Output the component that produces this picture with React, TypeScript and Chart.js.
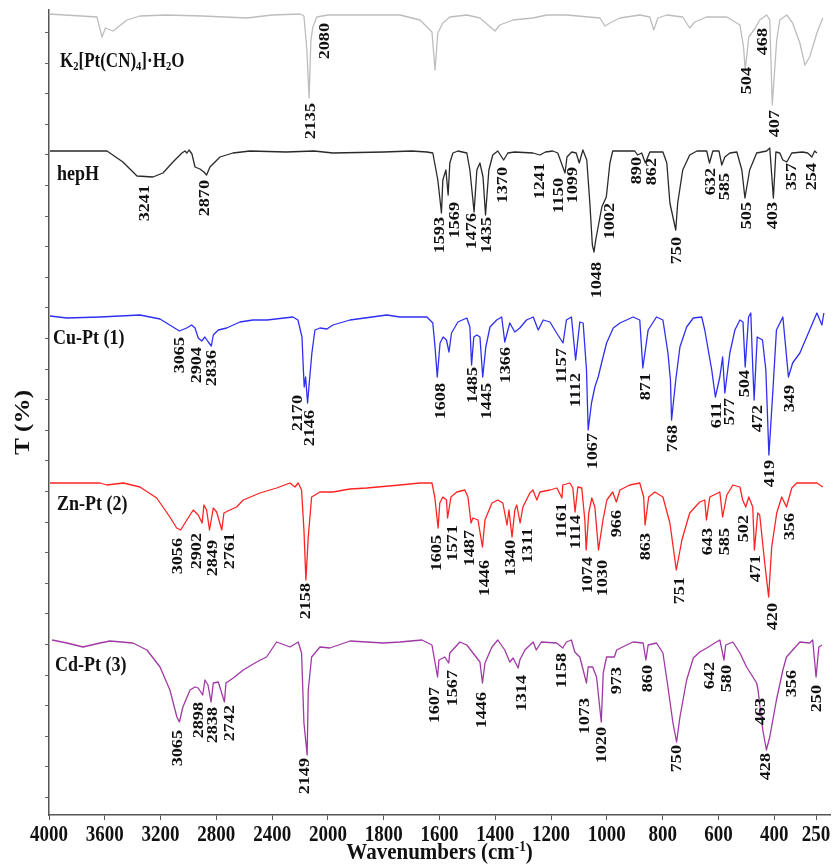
import React, { useEffect, useRef } from 'react';
import { Chart, registerables, LinearScale } from 'chart.js';

Chart.register(...registerables);

// ---------------- axis definition ----------------
const X_TICKS = [4000, 3600, 3200, 2800, 2400, 2000, 1800, 1600, 1400, 1200, 1000, 800, 600, 400, 250];
const X_MIN = 200;
const X_MAX = 4000;
const X_BREAK = 2000;
const Y_MIN = 0;
const Y_MAX = 805;

// ---------------- spectra (wavenumber, stacked transmittance) ----------------
const K2PT = [[4000,801],[3656,798],[3620,778],[3595,787],[3541,784],[3441,795],[3348,799],[3154,800],[2900,799],[2581,797],[2400,800],[2200,801],[2172,799],[2151,765],[2135,717],[2122,775],[2108,788],[2080,798],[2000,800],[1742,800],[1670,795],[1627,783],[1616,745],[1606,782],[1588,792],[1563,798],[1502,800],[1455,797],[1401,784],[1384,790],[1337,795],[1265,797],[1215,800],[1143,800],[1025,797],[1007,789],[989,792],[953,797],[882,800],[846,798],[832,785],[817,797],[785,800],[728,798],[703,787],[685,793],[643,798],[570,798],[523,790],[510,768],[504,745],[491,778],[468,787],[452,795],[427,800],[416,795],[407,710],[391,775],[380,795],[355,800],[334,792],[308,772],[290,750],[273,758],[247,782],[226,797]];

const HEPH = [[3993,664],[3584,664],[3470,653],[3369,639],[3255,638],[3183,642],[3111,653],[3047,662],[3025,664],[3011,662],[2996,665],[2975,661],[2953,648],[2918,646],[2889,643],[2870,640],[2846,648],[2774,658],[2681,662],[2559,664],[2300,663],[2100,664],[1982,662],[1800,663],[1700,664],[1645,663],[1624,662],[1606,635],[1593,602],[1588,635],[1577,645],[1569,620],[1563,652],[1552,662],[1534,664],[1502,662],[1491,645],[1476,603],[1466,645],[1455,652],[1444,638],[1435,600],[1423,645],[1409,660],[1391,664],[1370,655],[1355,662],[1330,663],[1265,662],[1240,660],[1220,663],[1194,664],[1176,662],[1150,642],[1143,658],[1126,663],[1110,662],[1099,652],[1086,665],[1072,655],[1061,612],[1052,570],[1046,563],[1040,575],[1030,590],[1018,608],[1002,618],[989,652],[979,664],[900,664],[890,660],[875,662],[862,652],[846,663],[799,663],[785,652],[774,612],[753,585],[746,612],[728,645],[703,660],[677,664],[642,664],[632,652],[620,664],[598,664],[588,650],[577,658],[559,662],[534,663],[516,645],[505,617],[488,645],[463,662],[427,664],[416,667],[403,617],[394,663],[380,662],[369,655],[355,653],[337,662],[298,663],[280,662],[265,658],[255,664],[247,662]];

const CUPT = [[3993,499],[3871,497],[3634,498],[3348,500],[3204,496],[3111,488],[3065,484],[3013,487],[2977,490],[2953,487],[2930,477],[2905,474],[2882,478],[2858,473],[2836,469],[2822,480],[2786,485],[2726,487],[2631,493],[2538,495],[2437,495],[2251,498],[2215,495],[2186,478],[2176,445],[2170,428],[2160,438],[2146,412],[2132,435],[2115,462],[2093,485],[2057,487],[2007,486],[1982,490],[1921,495],[1789,500],[1742,498],[1645,498],[1624,492],[1616,468],[1608,438],[1598,472],[1587,478],[1575,475],[1566,463],[1557,482],[1534,493],[1502,497],[1491,488],[1485,450],[1477,478],[1466,480],[1455,478],[1445,438],[1434,468],[1419,488],[1395,495],[1377,498],[1366,473],[1348,492],[1330,483],[1312,487],[1288,495],[1264,498],[1246,485],[1228,495],[1204,493],[1180,482],[1157,472],[1145,495],[1127,498],[1112,455],[1097,493],[1085,492],[1073,445],[1067,385],[1055,412],[1043,428],[1031,438],[1019,452],[1001,472],[977,487],[953,492],[906,498],[882,495],[871,447],[852,485],[822,498],[799,495],[781,462],[772,435],[768,395],[753,435],[738,468],[714,488],[690,497],[660,498],[649,485],[624,445],[611,418],[595,438],[585,458],[577,422],[559,462],[541,485],[523,495],[512,493],[504,448],[492,498],[484,502],[477,448],[472,415],[461,478],[442,475],[430,445],[419,360],[404,428],[392,485],[369,498],[349,438],[334,452],[308,462],[273,485],[247,502],[229,490],[222,502]];

const ZNPT = [[3993,332],[3634,332],[3586,330],[3467,332],[3348,328],[3228,317],[3133,298],[3085,287],[3056,285],[3025,292],[2966,305],[2930,300],[2902,292],[2889,310],[2870,305],[2849,285],[2822,307],[2798,303],[2761,285],[2746,302],[2703,305],[2655,308],[2607,315],[2488,322],[2368,327],[2272,332],[2237,328],[2213,332],[2189,325],[2172,285],[2158,235],[2141,278],[2117,318],[2057,323],[1982,323],[1921,326],[1861,327],[1742,330],[1670,332],[1627,332],[1617,318],[1605,287],[1599,312],[1588,318],[1575,315],[1571,297],[1559,318],[1538,323],[1509,325],[1498,318],[1487,292],[1480,297],[1462,295],[1446,268],[1437,295],[1412,312],[1391,315],[1373,312],[1358,290],[1351,305],[1340,278],[1330,305],[1323,310],[1311,292],[1301,308],[1276,322],[1265,325],[1251,315],[1240,323],[1204,325],[1179,327],[1161,317],[1158,330],[1133,332],[1122,327],[1114,303],[1104,328],[1090,327],[1079,295],[1074,265],[1065,302],[1054,317],[1043,308],[1030,265],[1014,295],[1000,315],[979,323],[966,313],[953,325],[918,330],[882,332],[868,318],[863,290],[850,318],[828,323],[799,318],[774,292],[751,245],[731,275],[703,302],[667,313],[649,315],[643,295],[631,318],[595,323],[585,298],[570,320],[548,330],[523,328],[513,315],[502,308],[491,318],[477,308],[471,265],[459,302],[452,300],[434,252],[420,218],[409,268],[391,302],[373,318],[356,308],[337,327],[319,332],[283,332],[247,332],[226,328]];

const CDPT = [[3978,175],[3871,172],[3756,168],[3634,172],[3563,174],[3398,172],[3298,165],[3204,148],[3133,125],[3083,98],[3065,93],[3040,108],[2989,125],[2953,128],[2930,127],[2898,120],[2882,135],[2860,130],[2838,113],[2822,132],[2786,133],[2742,113],[2731,132],[2679,137],[2607,145],[2511,153],[2440,158],[2368,173],[2272,168],[2213,173],[2189,162],[2172,92],[2149,60],[2141,125],[2117,158],[2057,168],[1993,167],[1921,174],[1801,172],[1742,173],[1663,175],[1627,170],[1607,138],[1602,155],[1581,158],[1567,152],[1563,162],[1527,173],[1502,170],[1480,162],[1455,153],[1446,132],[1437,152],[1412,168],[1391,175],[1366,165],[1348,153],[1336,157],[1318,147],[1312,155],[1294,165],[1264,173],[1253,165],[1235,173],[1180,172],[1158,167],[1145,173],[1127,175],[1115,163],[1097,158],[1073,132],[1067,148],[1051,148],[1037,138],[1020,93],[1013,142],[1001,158],[989,158],[973,158],[965,165],[929,170],[906,173],[870,172],[860,155],[852,170],[822,172],[799,162],[781,128],[763,92],[750,73],[738,98],[714,135],[690,157],[667,163],[642,167],[613,172],[595,175],[580,155],[574,170],[548,173],[523,162],[499,148],[463,132],[458,125],[441,85],[428,65],[416,78],[392,115],[369,145],[356,158],[308,173],[273,172],[262,175],[250,138],[240,168],[229,170]];

// ---------------- peak labels: [text, label x (cm-1), label top (y units)] ----------------
const K2PT_PEAKS = [['2135',2122,712],['2080',2022,792],['504',498,748],['468',441,787],['407',398,705]];
const HEPH_PEAKS = [['3241',3312,630],['2870',2882,635],['1593',1599,598],['1569',1545,613],['1476',1484,602],['1435',1430,598],['1370',1373,648],['1241',1240,652],['1150',1172,637],['1099',1122,648],['1048',1036,553],['1002',989,612],['890',892,658],['862',839,657],['750',749,578],['632',624,647],['585',577,642],['505',498,613],['403',405,613],['357',334,652],['254',262,652]];
const CUPT_PEAKS = [['3065',3061,478],['2904',2939,468],['2836',2832,465],['2170',2215,420],['2146',2129,405],['1608',1592,432],['1485',1480,448],['1445',1430,432],['1366',1362,468],['1157',1161,467],['1112',1108,442],['1067',1050,382],['871',860,442],['768',763,390],['611',606,413],['577',556,417],['504',505,445],['472',459,410],['419',416,355],['349',344,430]];
const ZNPT_PEAKS = [['3056',3075,277],['2902',2939,282],['2849',2824,275],['2761',2703,282],['2158',2158,232],['1605',1609,280],['1571',1552,290],['1487',1491,285],['1446',1437,255],['1340',1341,275],['1311',1283,287],['1161',1161,312],['1114',1108,300],['1074',1068,258],['1030',1014,255],['966',961,305],['863',857,282],['751',738,238],['643',638,287],['585',577,287],['502',509,300],['471',463,260],['420',405,212],['356',344,302]];
const CDPT_PEAKS = [['3065',3075,85],['2898',2925,113],['2838',2824,108],['2742',2703,110],['2149',2165,57],['1607',1617,128],['1567',1552,145],['1446',1448,123],['1314',1305,140],['1158',1161,162],['1073',1079,117],['1020',1018,88],['973',964,148],['860',853,150],['750',746,70],['642',631,153],['580',570,150],['463',445,117],['428',427,62],['356',337,145],['250',247,130]];

// sample names: segments [text, 0 normal | 1 subscript]
const NAME_K2PT = [['K',0],['2',1],['[Pt(CN)',0],['4',1],[']·H',0],['2',1],['O',0]];
const NAME_HEPH = [['hepH',0]];
const NAME_CUPT = [['Cu-Pt (1)',0]];
const NAME_ZNPT = [['Zn-Pt (2)',0]];
const NAME_CDPT = [['Cd-Pt (3)',0]];
const NAME_POS = [[3921,755],[3943,642],[3971,478],[3943,312],[3957,151]];

const SERIES = [
  { label: 'K2[Pt(CN)4]·H2O', data: K2PT, color: '#bdbdbd', peaks: K2PT_PEAKS, name: NAME_K2PT },
  { label: 'hepH', data: HEPH, color: '#2a2a2a', peaks: HEPH_PEAKS, name: NAME_HEPH },
  { label: 'Cu-Pt (1)', data: CUPT, color: '#2f2ff2', peaks: CUPT_PEAKS, name: NAME_CUPT },
  { label: 'Zn-Pt (2)', data: ZNPT, color: '#ff2424', peaks: ZNPT_PEAKS, name: NAME_ZNPT },
  { label: 'Cd-Pt (3)', data: CDPT, color: '#a038a6', peaks: CDPT_PEAKS, name: NAME_CDPT },
];

// ---------------- split (two-segment) wavenumber scale ----------------
function warp(w: number) {
  return w >= X_BREAK ? (X_MAX - w) / 400 : (X_MAX - X_BREAK) / 400 + (X_BREAK - w) / 200;
}
function unwarp(u: number) {
  const ub = (X_MAX - X_BREAK) / 400;
  return u <= ub ? X_MAX - u * 400 : X_BREAK - (u - ub) * 200;
}

class SplitWaveScale extends LinearScale {
  static id = 'splitwave';
  static defaults = LinearScale.defaults;
  buildTicks() {
    return X_TICKS.map((v) => ({ value: v }));
  }
  getPixelForValue(value: number) {
    return this.getPixelForDecimal(warp(value) / warp(X_MIN));
  }
  getValueForPixel(pixel: number) {
    return unwarp(this.getDecimalForPixel(pixel) * warp(X_MIN));
  }
}
Chart.register(SplitWaveScale as any);

// ---------------- text drawing ----------------
const FONT = '"Liberation Serif", "Times New Roman", serif';
const TEXT_COLOR = '#111111';

function vText(ctx: CanvasRenderingContext2D, text: string, x: number, yTop: number, size: number, stretch: number, align: CanvasTextAlign) {
  ctx.save();
  ctx.translate(x, yTop);
  ctx.scale(1, stretch);
  ctx.rotate(-Math.PI / 2);
  ctx.font = `bold ${size}px ${FONT}`;
  ctx.textAlign = align;
  ctx.textBaseline = 'middle';
  ctx.fillText(text, 0, 0);
  ctx.restore();
}

function segWidth(ctx: CanvasRenderingContext2D, segs: any[], size: number) {
  let w = 0;
  for (const [t, s] of segs) {
    ctx.font = `bold ${s ? size * 0.62 : size}px ${FONT}`;
    w += ctx.measureText(t).width;
  }
  return w;
}

function hSegments(ctx: CanvasRenderingContext2D, segs: any[], x0: number, yBase: number, size: number, stretch: number) {
  ctx.save();
  ctx.translate(x0, yBase);
  ctx.scale(1, stretch);
  ctx.textAlign = 'left';
  ctx.textBaseline = 'alphabetic';
  let cx = 0;
  for (const [t, s] of segs) {
    const fs = s ? size * 0.62 : size;
    ctx.font = `bold ${fs}px ${FONT}`;
    const dy = s === 1 ? size * 0.16 : s === -1 ? -size * 0.36 : 0;
    ctx.fillText(t, cx, dy);
    cx += ctx.measureText(t).width;
  }
  ctx.restore();
}

const textPlugin = {
  id: 'irText',
  afterDraw(chart: any) {
    const { ctx, scales, chartArea } = chart;
    const xs = scales.x;
    const ys = scales.y;
    ctx.save();
    ctx.fillStyle = TEXT_COLOR;
    SERIES.forEach((s, i) => {
      for (const [t, wx, vy] of s.peaks as any[]) {
        vText(ctx, t, xs.getPixelForValue(wx), ys.getPixelForValue(vy), 14.5, 1.25, 'right');
      }
      const [nx, ny] = NAME_POS[i];
      const size = i === 0 ? 17 : 18;
      hSegments(ctx, s.name, xs.getPixelForValue(nx), ys.getPixelForValue(ny) + size * 0.33 * 1.2, size, 1.2);
    });
    // x tick labels
    xs.ticks.forEach((tk: any, i: number) => {
      const px = xs.getPixelForTick(i);
      ctx.save();
      ctx.translate(px, chartArea.bottom + 26);
      ctx.scale(1, 1.25);
      ctx.font = `bold 19px ${FONT}`;
      ctx.textAlign = 'center';
      ctx.textBaseline = 'alphabetic';
      ctx.fillText(String(tk.value), 0, 0);
      ctx.restore();
    });
    // x title with superscript
    const titleSegs = [['Wavenumbers (cm', 0], ['-1', -1], [')', 0]];
    const tw = segWidth(ctx, titleSegs, 21);
    hSegments(ctx, titleSegs, (chartArea.left + chartArea.right) / 2 - tw / 2, chartArea.bottom + 44, 21, 1.12);
    // y title
    vText(ctx, 'T (%)', 24, (chartArea.top + chartArea.bottom) / 2 + 10, 21, 1.2, 'center');
    ctx.restore();
  },
};

const Y_TICK_VALUES: number[] = [];
for (let v = 17.5; v <= Y_MAX; v += 30.6) Y_TICK_VALUES.push(v);

export default function App() {
  const ref = useRef<HTMLCanvasElement>(null);
  useEffect(() => {
    document.body.style.margin = '0';
    const datasets = SERIES.map((s) => ({
      label: s.label,
      data: s.data.map(([x, y]) => ({ x, y })),
      borderColor: s.color,
      borderWidth: 1.3,
      pointRadius: 0,
      tension: 0,
      fill: false,
      borderJoinStyle: 'round' as const,
    }));
    const chart = new Chart(ref.current as HTMLCanvasElement, {
      type: 'line',
      data: { datasets },
      options: {
        animation: false,
        responsive: false,
        devicePixelRatio: 1,
        layout: { autoPadding: false, padding: { left: 0, top: 10, right: 3, bottom: 0 } },
        plugins: { legend: { display: false }, tooltip: { enabled: false } },
        scales: {
          x: {
            type: 'splitwave' as any,
            min: X_MIN,
            max: X_MAX,
            ticks: { display: false, autoSkip: false, maxRotation: 0 },
            grid: { display: true, drawOnChartArea: false, drawTicks: true, tickLength: 5, color: '#555', lineWidth: 1 },
            border: { display: true, color: '#555', width: 1.5 },
            afterFit: (s: any) => { s.height = 49; },
          },
          y: {
            type: 'linear',
            min: Y_MIN,
            max: Y_MAX,
            ticks: { display: false },
            afterBuildTicks: (s: any) => { s.ticks = Y_TICK_VALUES.map((v) => ({ value: v })); },
            grid: { display: true, drawOnChartArea: false, drawTicks: true, tickLength: 4, color: '#666', lineWidth: 1 },
            border: { display: true, color: '#555', width: 1.5 },
            afterFit: (s: any) => { s.width = 49; },
          },
        },
      },
      plugins: [textPlugin],
    } as any);
    return () => chart.destroy();
  }, []);
  return (
    <div style={{ width: 833, height: 864 }}>
      <canvas ref={ref} width={833} height={864} style={{ display: 'block' }} />
    </div>
  );
}
